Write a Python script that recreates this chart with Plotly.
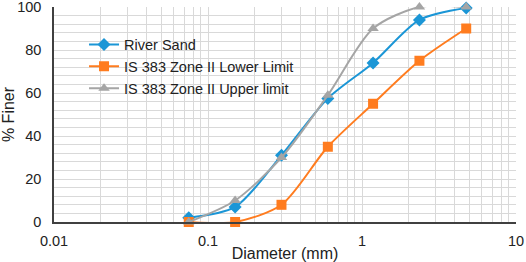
import plotly.graph_objects as go

diameter = [0.075, 0.15, 0.3, 0.6, 1.18, 2.36, 4.75]
river_sand = [2, 7, 31, 57.5, 74, 94, 99.5]
zone2_lower = [0, 0, 8, 35, 55, 75, 90]
zone2_upper = [0, 10, 30, 59, 90, 100, 100]

x_major = [0.01, 0.1, 1, 10]
x_major_labels = ["0.01", "0.1", "1", "10"]
y_ticks = [0, 20, 40, 60, 80, 100]

# all log gridline positions (2..9 per decade), labels only at decades
x_grid = []
x_grid_text = []
for dec in [0.01, 0.1, 1]:
    for m in range(1, 10):
        v = round(m * dec, 6)
        x_grid.append(v)
        x_grid_text.append(x_major_labels[x_major.index(dec)] if m == 1 else "")
x_grid.append(10)
x_grid_text.append("10")

font_family = "Liberation Sans, Arial, sans-serif"
grid_col = "#d9d9d9"

fig = go.Figure()
fig.add_trace(go.Scatter(
    x=diameter, y=river_sand, name="River Sand", mode="lines+markers",
    line=dict(color="#1b96d6", width=2, shape="spline", smoothing=0.8),
    marker=dict(symbol="diamond", size=10, color="#1b96d6"), cliponaxis=False))
fig.add_trace(go.Scatter(
    x=diameter, y=zone2_lower, name="IS 383 Zone II Lower Limit", mode="lines+markers",
    line=dict(color="#ff7c1f", width=2, shape="spline", smoothing=0.8),
    marker=dict(symbol="square", size=10, color="#ff7c1f"), cliponaxis=False))
fig.add_trace(go.Scatter(
    x=diameter, y=zone2_upper, name="IS 383 Zone II Upper limit", mode="lines+markers",
    line=dict(color="#a5a5a5", width=2, shape="spline", smoothing=0.8),
    marker=dict(symbol="triangle-up", size=10, color="#a5a5a5"), cliponaxis=False))

fig.update_layout(
    width=526, height=262,
    margin=dict(l=54, r=10, t=7, b=40),
    paper_bgcolor="white", plot_bgcolor="white",
    font=dict(family=font_family, size=14, color="#222222"),
    showlegend=True,
    legend=dict(x=0.065, y=0.9, xanchor="left", yanchor="top",
                bgcolor="rgba(255,255,255,0)", font=dict(size=14.5),
                tracegroupgap=0, itemwidth=30),
    xaxis=dict(type="log", range=[-2, 1], tickvals=x_grid, ticktext=x_grid_text,
               showgrid=True, gridcolor=grid_col, gridwidth=1,
               showline=True, linecolor="#404040", linewidth=1.5,
               ticks="", zeroline=False, ticklabeloverflow="allow",
               ticklabelstandoff=5, tickfont=dict(size=14.5), automargin=False,
               title=dict(text="Diameter (mm)", font=dict(size=16))),
    yaxis=dict(range=[0, 100], tickvals=y_ticks,
               showgrid=True, gridcolor=grid_col, gridwidth=1,
               minor=dict(dtick=4, showgrid=True, gridcolor=grid_col, gridwidth=1),
               showline=True, linecolor="#404040", linewidth=1.5,
               ticks="", zeroline=False, ticklabeloverflow="allow",
               ticklabelstandoff=8, tickfont=dict(size=14.5), automargin=False,
               title=dict(text="% Finer", font=dict(size=16))),
)

fig.write_html("out.html", config={"displayModeBar": False},
               post_script="document.body.style.margin='0';")
